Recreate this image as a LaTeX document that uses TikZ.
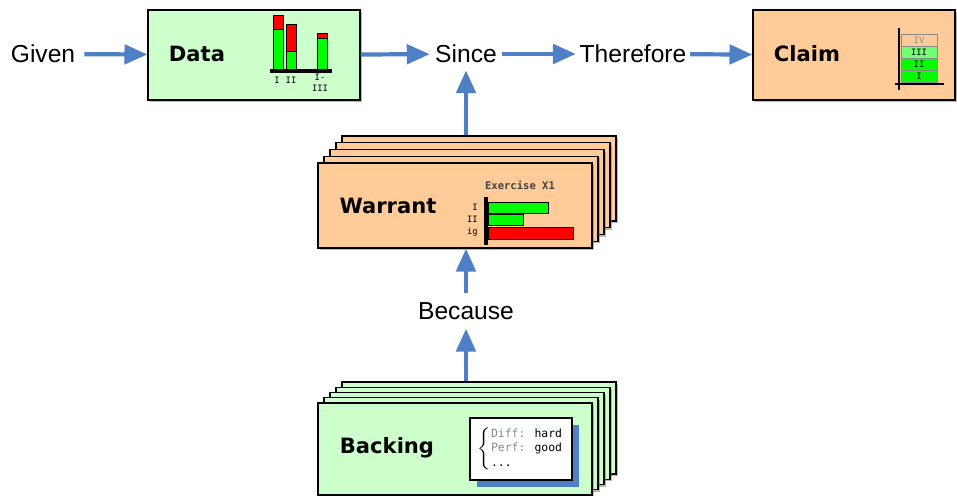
\documentclass[tikz,border=0pt]{standalone}
\usepackage{fontspec}
\setmainfont{Liberation Sans}
\newfontfamily\cardfont{DejaVu Sans}
\newfontfamily\chartfont{DejaVu Sans Mono}
\usepackage{xcolor}
\usetikzlibrary{arrows.meta,shadows}
\definecolor{flowblue}{HTML}{4F7FC4}
\definecolor{cardgreen}{HTML}{CCFFCC}
\definecolor{cardpeach}{HTML}{FFCC99}
\definecolor{bargreen}{HTML}{00FF00}
\definecolor{barred}{HTML}{FF0000}
\definecolor{inkgray}{HTML}{8A8A8A}
\tikzset{
  flow/.style={draw=flowblue, line width=2.4pt, -{Triangle[length=13pt,width=11pt]}},
  word/.style={font=\fontsize{14}{16}\selectfont, inner sep=1pt},
  title/.style={font=\cardfont\bfseries\fontsize{12}{14}\selectfont},
  card/.style={draw=black, line width=0.8pt,
    drop shadow={shadow xshift=1.2pt, shadow yshift=-1.2pt, opacity=0.55}},
  cardG/.style={card, fill=cardgreen},
  cardO/.style={card, fill=cardpeach},
  bar/.style={draw=black, line width=0.4pt},
  axis/.style={draw=black, line width=2pt},
  tick/.style={font=\chartfont\fontsize{5}{6}\selectfont, inner sep=0.5pt}
}
\begin{document}
\begin{tikzpicture}[x=0.02cm, y=-0.02cm]
  \useasboundingbox (0,0) rectangle (957,496);

  % Top row
  \node[word] (given) at (43,54) {Given};
  \node[cardG, minimum width=4.24cm, minimum height=1.8cm] (data) at (254,55) {};
  \node[title] (datat) at (197,54) {Data};
  \node[word] (since) at (466,54) {Since};
  \node[word] (therefore) at (633,54) {Therefore};
  \node[cardO, minimum width=4.04cm, minimum height=1.8cm] (claim) at (854,55) {};
  \node[title] (claimt) at (807,54) {Claim};

  % Data chart
  \fill[bar, fill=bargreen] (273,29) rectangle (283,71);
  \fill[bar, fill=barred]   (273,15) rectangle (283,29);
  \fill[bar, fill=bargreen] (286,51) rectangle (296,71);
  \fill[bar, fill=barred]   (286,24) rectangle (296,51);
  \fill[bar, fill=bargreen] (317,38) rectangle (327,71);
  \fill[bar, fill=barred]   (317,33) rectangle (327,38);
  \draw[axis, line width=1.8pt] (270,71) -- (332,71);
  \node[tick] (dt1) at (277,80) {I};
  \node[tick] (dt2) at (291,80) {II};
  \node[tick] (dt3) at (320,77) {I-};
  \node[tick] (dt4) at (320,88) {III};

  % Claim chart
  \fill[draw=inkgray, line width=0.4pt, fill=cardpeach] (901,34) rectangle (937,46);
  \fill[draw=inkgray, line width=0.4pt, fill=bargreen!55] (901,46) rectangle (937,58);
  \fill[draw=inkgray, line width=0.4pt, fill=bargreen] (901,58) rectangle (937,70);
  \fill[draw=inkgray, line width=0.4pt, fill=bargreen] (901,70) rectangle (937,82);
  \draw[axis, line width=1.2pt] (899,28) -- (899,90);
  \draw[axis, line width=1.2pt] (895,84) -- (944,84);
  \node[tick, text=inkgray] (ct4) at (919,40) {IV};
  \node[tick] (ct3) at (919,52) {III};
  \node[tick] (ct2) at (919,64) {II};
  \node[tick] (ct1) at (919,76) {I};

  % Warrant stack
  \foreach \k in {4,3,2,1}
    \node[cardO, minimum width=5.48cm, minimum height=1.7cm] (warrant-\k)
      at ({455+6*\k},{205.5-6.75*\k}) {};
  \node[cardO, minimum width=5.48cm, minimum height=1.7cm] (warrant) at (455,205.5) {};
  \node[title] (warrantt) at (388,206) {Warrant};

  % Warrant chart
  \node[tick, font=\chartfont\bfseries\fontsize{6}{7}\selectfont, text=black!75] (wtitle) at (520,185) {Exercise X1};
  \fill[bar, fill=bargreen] (488,202) rectangle (548,213);
  \fill[bar, fill=bargreen] (488,214) rectangle (523,225);
  \fill[bar, fill=barred]   (488,227) rectangle (573,239);
  \draw[axis, line width=2.4pt] (486,197) -- (486,245);
  \node[tick, anchor=east] (wt1) at (479,207) {I};
  \node[tick, anchor=east] (wt2) at (479,219) {II};
  \node[tick, anchor=east] (wt3) at (479,232) {ig};

  \node[word] (because) at (466,311) {Because};

  % Backing stack
  \foreach \k in {4,3,2,1}
    \node[cardG, minimum width=5.48cm, minimum height=1.84cm] (backing-\k)
      at ({455+6*\k},{449-5.25*\k}) {};
  \node[cardG, minimum width=5.48cm, minimum height=1.84cm] (backing) at (455,449) {};
  \node[title] (backingt) at (387,448) {Backing};

  % Backing facts
  \fill[flowblue] (477,425) rectangle (579,487);
  \node[draw=black, line width=0.6pt, fill=white, minimum width=2.04cm, minimum height=1.24cm,
    inner sep=1pt] (facts) at (521,449)
    {\chartfont\fontsize{6.5}{8.5}\selectfont$\left\{\begin{tabular}{@{}l@{}}
      \textcolor{inkgray}{Diff:} hard\\ \textcolor{inkgray}{Perf:} good\\ ...
    \end{tabular}\right.$\hspace{3pt}};

  % Connectors
  \draw[flow, shorten <=4pt] (given) -- (data);
  \draw[flow, shorten >=2pt] (data) -- (since);
  \draw[flow, shorten <=2pt, shorten >=1pt] (since) -- (therefore);
  \draw[flow, shorten <=1pt] (therefore) -- (claim);
  \draw[flow, shorten >=3pt] (warrant-4.north -| since) -- (since);
  \draw[flow, shorten <=4pt] (because) -- (warrant.south -| because);
  \draw[flow, shorten >=4pt] (backing-4.north -| because) -- (because);
\end{tikzpicture}
\end{document}
